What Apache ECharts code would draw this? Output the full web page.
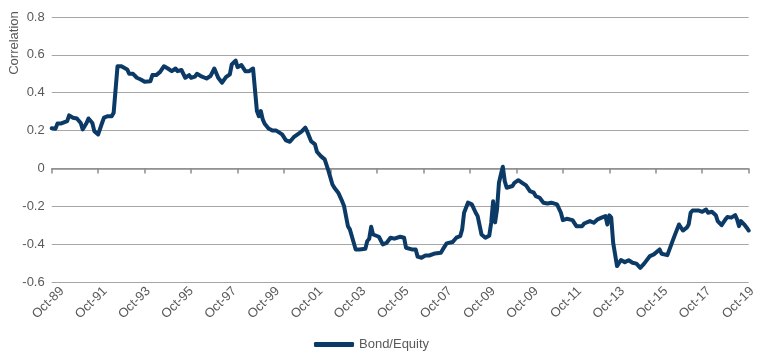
<!DOCTYPE html>
<html>
<head>
<meta charset="utf-8">
<script src="https://cdn.jsdelivr.net/npm/echarts@6/dist/echarts.min.js"></script>
<style>html,body{margin:0;padding:0;background:#fff}#c{width:770px;height:358px}</style>
</head>
<body>
<div id="c"></div>
<script>
// months elapsed since Oct-1989
const monthIndex = [0,2,3,5,6,8,9,11,13,15,16,18,19,21,22,24,26,27,29,31,32,33,34,36,39,40,42,44,46,48,51,52,54,56,58,60,62,64,65,67,69,71,72,74,75,77,80,82,84,86,88,90,92,93,95,96,98,100,102,104,105,106,107,108,109,110,112,114,116,119,121,123,125,127,129,131,132,134,136,137,139,141,143,145,146,148,150,151,153,154,156,157,159,162,163,164,165,166,167,169,170,171,173,175,177,180,182,183,186,188,189,191,193,195,196,198,201,202,204,207,209,211,212,213,215,216,217,219,220,221,222,224,226,227,228,229,230,231,232,233,234,235,238,239,241,243,245,247,249,250,252,254,256,258,261,263,264,266,269,271,274,275,278,280,282,284,286,287,288,289,290,292,293,294,296,298,300,302,304,306,309,311,312,314,315,318,319,321,323,324,326,328,329,330,331,334,336,338,339,341,343,344,346,348,349,351,353,354,355,356,358,359,360];
const bondEquity = [0.212,0.21,0.238,0.238,0.247,0.25,0.28,0.268,0.264,0.24,0.206,0.24,0.264,0.24,0.197,0.18,0.24,0.268,0.276,0.276,0.294,0.303,0.54,0.54,0.523,0.50,0.50,0.479,0.47,0.458,0.461,0.493,0.493,0.51,0.54,0.528,0.514,0.528,0.514,0.52,0.479,0.493,0.479,0.485,0.50,0.488,0.475,0.488,0.528,0.479,0.453,0.482,0.497,0.549,0.57,0.535,0.546,0.514,0.514,0.528,0.523,0.303,0.276,0.303,0.259,0.236,0.211,0.20,0.20,0.18,0.148,0.141,0.165,0.18,0.194,0.215,0.194,0.144,0.127,0.088,0.065,0.048,-0.014,-0.085,-0.102,-0.128,-0.173,-0.199,-0.305,-0.322,-0.393,-0.428,-0.428,-0.424,-0.384,-0.371,-0.308,-0.349,-0.354,-0.361,-0.371,-0.401,-0.393,-0.366,-0.371,-0.361,-0.366,-0.419,-0.428,-0.428,-0.466,-0.472,-0.46,-0.46,-0.466,-0.449,-0.445,-0.428,-0.396,-0.389,-0.366,-0.358,-0.322,-0.234,-0.181,-0.173,-0.19,-0.234,-0.252,-0.243,-0.349,-0.366,-0.355,-0.287,-0.173,-0.285,-0.217,-0.076,-0.032,0.009,-0.067,-0.102,-0.093,-0.076,-0.062,-0.076,-0.09,-0.12,-0.128,-0.146,-0.155,-0.181,-0.185,-0.181,-0.19,-0.234,-0.273,-0.266,-0.273,-0.305,-0.305,-0.291,-0.278,-0.287,-0.269,-0.26,-0.252,-0.296,-0.248,-0.26,-0.393,-0.516,-0.507,-0.484,-0.495,-0.485,-0.498,-0.503,-0.525,-0.503,-0.463,-0.454,-0.454,-0.428,-0.451,-0.458,-0.454,-0.375,-0.322,-0.296,-0.328,-0.313,-0.296,-0.234,-0.222,-0.222,-0.229,-0.217,-0.234,-0.229,-0.247,-0.278,-0.30,-0.269,-0.257,-0.26,-0.247,-0.269,-0.305,-0.278,-0.30,-0.313,-0.328];
const tickLabels = ['Oct-89','Oct-91','Oct-93','Oct-95','Oct-97','Oct-99','Oct-01','Oct-03','Oct-05','Oct-07','Oct-09','Oct-09','Oct-11','Oct-13','Oct-15','Oct-17','Oct-19'];
const seriesName = 'Bond/Equity';

const font = 'Liberation Sans, Arial, sans-serif';
const chart = echarts.init(document.getElementById('c'), null, {renderer: 'canvas'});
chart.setOption({
  animation: false,
  backgroundColor: '#fff',
  textStyle: {fontFamily: font},
  grid: [
    {left: 51.7, right: 21.3, top: 17, bottom: 76, containLabel: false},
    {left: 62, right: 18, top: 17, bottom: 76, containLabel: false}
  ],
  legend: {
    data: [seriesName], left: 309, top: 333, icon: 'roundRect',
    itemWidth: 40, itemHeight: 5, itemGap: 8,
    textStyle: {color: '#595959', fontSize: 13, fontFamily: font}
  },
  graphic: [{
    type: 'text', rotation: Math.PI / 2,
    style: {text: 'Correlation', fill: '#595959', font: '13px ' + font, textAlign: 'center', textVerticalAlign: 'middle'},
    x: 14, y: 43
  }],
  xAxis: [{
    type: 'value', gridIndex: 0, min: 0, max: 360, interval: 24,
    axisLine: {show: true, onZero: true, lineStyle: {color: '#8c8c8c', width: 1.5}},
    axisTick: {show: true, length: 5, lineStyle: {color: '#8c8c8c', width: 1.5}},
    axisLabel: {show: false}, splitLine: {show: false}
  }, {
    type: 'category', gridIndex: 1, data: tickLabels, boundaryGap: false, position: 'bottom',
    axisLine: {show: false, onZero: false}, axisTick: {show: false}, splitLine: {show: false},
    axisLabel: {interval: 0, rotate: 45, margin: 7, color: '#595959', fontSize: 13, fontFamily: font}
  }],
  yAxis: [{
    type: 'value', gridIndex: 0, min: -0.6, max: 0.8, interval: 0.2,
    axisLine: {show: false}, axisTick: {show: false},
    axisLabel: {margin: 7, color: '#595959', fontSize: 13, fontFamily: font,
      formatter: v => String(Math.round(v * 10) / 10)},
    splitLine: {show: true, lineStyle: {color: '#a6a6a6', width: 1.2}}
  }, {
    type: 'value', gridIndex: 1, min: -0.6, max: 0.8, show: false
  }],
  series: [{
    name: seriesName, type: 'line', xAxisIndex: 0, yAxisIndex: 0, showSymbol: false,
    data: monthIndex.map((m, i) => [m, bondEquity[i]]),
    lineStyle: {color: '#0b3a66', width: 4, join: 'round', cap: 'round'},
    itemStyle: {color: '#0b3a66'}
  }]
});
</script>
</body>
</html>
